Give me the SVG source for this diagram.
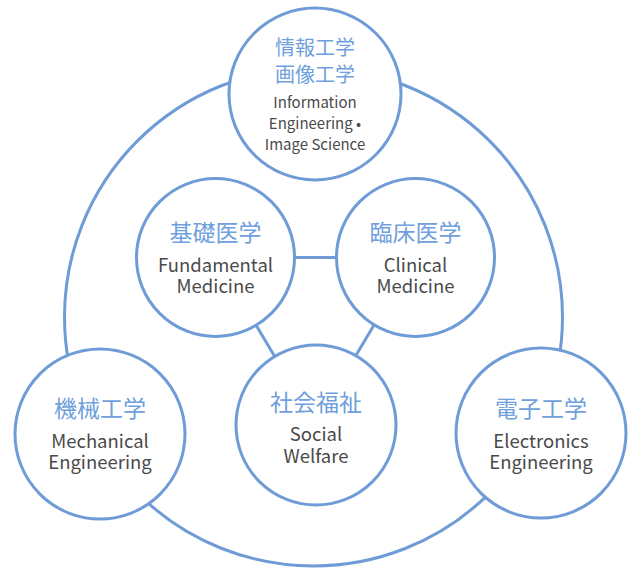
<svg xmlns="http://www.w3.org/2000/svg" width="631" height="568" viewBox="0 0 631 568">
<style>
.ring{fill:none;stroke:#6f9bd6;stroke-width:3}
.node circle{fill:#fff;stroke:#6f9bd6;stroke-width:3}
.links line{stroke:#6f9bd6;stroke-width:3}
text{font-family:"Noto Sans CJK JP","Noto Sans",sans-serif;text-anchor:middle}
.jp{fill:#6f9fdc;font-size:23px}
.jp2{fill:#6f9fdc;font-size:20px}
.en{fill:#4a4a4a;font-size:18.5px}
.en2{fill:#4a4a4a;font-size:15px}
</style>
<rect width="631" height="568" fill="#fff"/>
<g id="connectors" class="links">
<circle class="ring" cx="313.5" cy="317" r="249"/>
<line x1="294" y1="257.5" x2="337" y2="257.5"/>
<line x1="256" y1="325" x2="275" y2="357"/>
<line x1="374" y1="325" x2="355" y2="357"/>
</g>
<g id="info" class="node">
<circle cx="315" cy="94" r="86"/>
<text class="jp2" x="315" y="55">情報工学</text>
<text class="jp2" x="315" y="82">画像工学</text>
<text class="en2" x="315" y="108">Information</text>
<text class="en2" x="315" y="129">Engineering •</text>
<text class="en2" x="315" y="150">Image Science</text>
</g>
<g id="fundamental" class="node">
<circle cx="215.5" cy="257.5" r="79"/>
<text class="jp" x="215.5" y="241">基礎医学</text>
<text class="en" x="215.5" y="272">Fundamental</text>
<text class="en" x="215.5" y="293">Medicine</text>
</g>
<g id="clinical" class="node">
<circle cx="415.5" cy="257.5" r="79"/>
<text class="jp" x="415.5" y="241">臨床医学</text>
<text class="en" x="415.5" y="272">Clinical</text>
<text class="en" x="415.5" y="293">Medicine</text>
</g>
<g id="social" class="node">
<circle cx="316" cy="425" r="80"/>
<text class="jp" x="316" y="411">社会福祉</text>
<text class="en" x="316" y="441">Social</text>
<text class="en" x="316" y="463">Welfare</text>
</g>
<g id="mechanical" class="node">
<circle cx="100" cy="434" r="85"/>
<text class="jp" x="100" y="417">機械工学</text>
<text class="en" x="100" y="448">Mechanical</text>
<text class="en" x="100" y="469">Engineering</text>
</g>
<g id="electronics" class="node">
<circle cx="541" cy="433" r="85"/>
<text class="jp" x="541" y="417">電子工学</text>
<text class="en" x="541" y="448">Electronics</text>
<text class="en" x="541" y="469">Engineering</text>
</g>
</svg>
